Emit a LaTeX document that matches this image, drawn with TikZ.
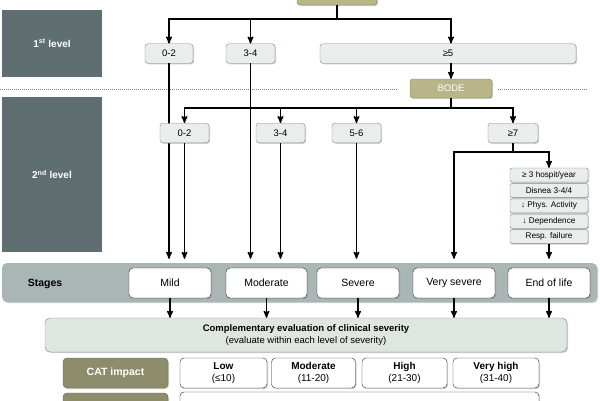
\documentclass[tikz,border=0pt]{standalone}
\usepackage{fontspec}
\setmainfont{Liberation Sans}
\usetikzlibrary{positioning, arrows, shadows}
\definecolor{slate}{HTML}{5F6E71}
\definecolor{olivebox}{HTML}{B8B588}
\definecolor{olivedark}{HTML}{8E8D6B}
\definecolor{bandfill}{HTML}{AAB6B4}
\definecolor{compfill}{HTML}{DFE5E1}
\definecolor{boxfill}{HTML}{E9EDEB}
\definecolor{boxline}{HTML}{7E8986}
\tikzset{
	>=stealth',
	shade/.style={drop shadow={shadow xshift=1pt, shadow yshift=-1pt, opacity=.4}},
	level/.style={fill=slate, text=white, inner sep=0pt, font=\bfseries\fontsize{10}{12}\selectfont},
	olive/.style={fill=olivebox, draw=olivebox!70!black, rounded corners=3pt, text=white, inner sep=0pt, shade, font=\fontsize{9.5}{11}\selectfont},
	box/.style={fill=boxfill, draw=boxline, rounded corners=3pt, inner sep=0pt, minimum height=19.5pt, shade, font=\fontsize{9.5}{11}\selectfont},
	crit/.style={box, minimum width=78pt, minimum height=14pt, rounded corners=2pt, font=\fontsize{8.2}{9}\selectfont},
	stage/.style={fill=white, draw=black!85, rounded corners=4pt, inner sep=0pt, minimum width=82pt, minimum height=30pt, shade, font=\fontsize{10.5}{12}\selectfont},
	catlabel/.style={fill=olivedark, draw=olivedark!70!black, rounded corners=4pt, text=white, inner sep=0pt, minimum width=105pt, minimum height=30pt, shade, font=\bfseries\fontsize{10.5}{12}\selectfont},
	catbox/.style={stage, align=center, font=\fontsize{10}{12}\selectfont},
	link/.style={line width=1.4pt},
	flow/.style={->, line width=1.4pt},
	dotline/.style={gray, line width=1pt, dash pattern=on 1pt off 1pt}}
\begin{document}
\begin{tikzpicture}[x=1pt, y=-1pt]
	\useasboundingbox (0,0) rectangle (600,400);
	
	\node[level, minimum width=100pt, minimum height=67pt] (lvl1) at (52,43.5) {1\textsuperscript{st} level};
	\node[level, minimum width=100pt, minimum height=155pt] (lvl2) at (52,174.5) {2\textsuperscript{nd} level};
	\draw[dotline] (0,89) -- (397,89) (498,89) -- (588,89);
	
	% stages
	\node[fill=bandfill, rounded corners=5pt, minimum width=595pt, minimum height=39pt, shade] (band) at (299.5,282.5) {};
	\node[font=\bfseries\fontsize{10.5}{12}\selectfont] (stages) at (45,284) {Stages};
	\node[stage] (mild) at (170,283) {Mild};
	\node[stage, minimum width=81pt] (moder) at (266.5,283) {Moderate};
	\node[stage] (sev) at (358,283) {Severe};
	\node[stage] (vsev) at (454,283) {Very severe};
	\node[stage] (eol) at (549,283) {End of life};
	
	% 1st level
	\node[olive, minimum width=80pt, minimum height=22pt] (top) at (337,-6) {};
	\node[box, minimum width=48pt] (l1a) at (169,53.5) {0-2};
	\node[box, minimum width=49pt] (l1b) at (250.5,53.5) {3-4};
	\node[box, minimum width=256pt] (l1c) at (448,53.5) {≥5};
	\node[olive, minimum width=82pt, minimum height=19pt] (bode) at (451,88.5) {BODE};
	
	\coordinate (j1) at (337,19);
	\draw[link] (top) -- (j1);
	\draw[flow] (j1) -| (l1a);
	\draw[flow] (j1) -| (l1b);
	\draw[flow] (j1) -| (l1c.north -| bode.north);
	\draw[flow] (l1c.south -| bode.north) -- (bode);
	\draw[flow, shorten >=4pt] (l1a) -- (l1a |- band.north);
	\draw[flow, shorten >=4pt] (l1b) -- (l1b |- band.north);
	
	% 2nd level
	\node[box, minimum width=49pt] (l2a) at (184.5,133) {0-2};
	\node[box, minimum width=49pt] (l2b) at (280.5,133) {3-4};
	\node[box, minimum width=49pt] (l2c) at (356.5,133) {5-6};
	\node[box, minimum width=50pt] (l2d) at (513,133) {≥7};
	\node[crit] (crit1) at (549,175) {≥ 3 hospit/year};
	\node[crit, below=1pt of crit1] (crit2) {Disnea 3-4/4};
	\node[crit, below=1pt of crit2] (crit3) {↓ Phys. Activity};
	\node[crit, below=1pt of crit3] (crit4) {↓ Dependence};
	\node[crit, below=1pt of crit4] (crit5) {Resp. failure};
	
	\coordinate (j2) at (451,108);
	\coordinate (j3) at (513,152);
	\draw[link] (bode) -- (j2);
	\foreach \n in {l2a, l2b, l2c, l2d}
		\draw[flow] (j2) -| (\n);
	\foreach \n in {l2a, l2b, l2c}
		\draw[flow, shorten >=4pt] (\n) -- (\n |- band.north);
	\draw[link] (l2d) -- (j3);
	\draw[flow, shorten >=4pt] (j3) -| (vsev |- band.north);
	\draw[flow] (j3) -| (crit1);
	\draw[flow, shorten >=4pt] (crit5) -- (crit5 |- band.north);
	
	% complementary evaluation
	\node[fill=compfill, draw=boxline, rounded corners=5pt, minimum width=522pt, minimum height=34pt, align=center, shade, font=\fontsize{9.5}{12}\selectfont] (comp) at (306,335)
		{\textbf{Complementary evaluation of clinical severity}\\(evaluate within each level of severity)};
	\foreach \s in {mild, moder, sev, vsev, eol}
		\draw[flow] (\s) -- (\s |- comp.north);
	
	\node[catlabel] (cat) at (115.5,373) {CAT impact};
	\node[catbox, minimum width=87pt] (low) at (223.5,373) {\textbf{Low}\\(≤10)};
	\node[catbox, minimum width=84pt] (mod) at (313.5,373) {\textbf{Moderate}\\(11-20)};
	\node[catbox, minimum width=85pt] (high) at (404.5,373) {\textbf{High}\\(21-30)};
	\node[catbox, minimum width=86pt] (vhigh) at (496,373) {\textbf{Very high}\\(31-40)};
	\node[catlabel] (exac) at (115.5,408) {Exacerbations};
	\node[catbox, minimum width=359pt] (exacrow) at (359.5,407) {};
\end{tikzpicture}
\end{document}
